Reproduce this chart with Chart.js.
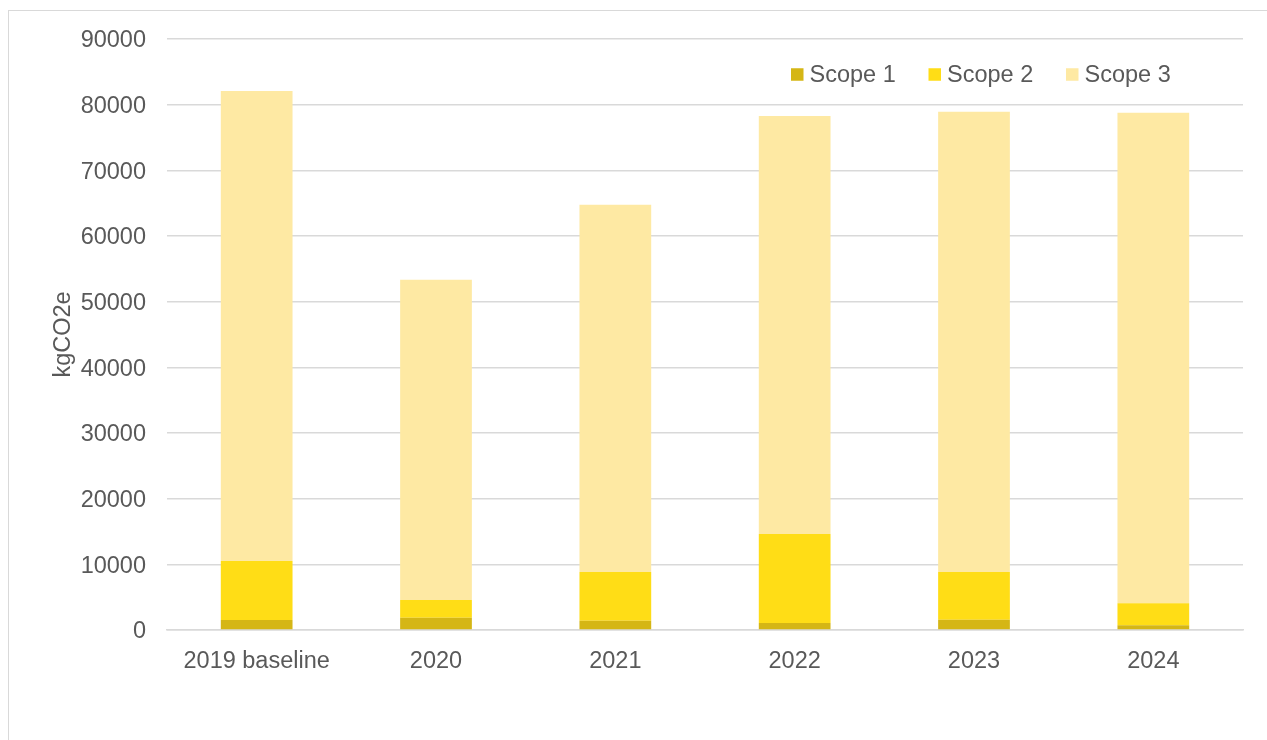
<!DOCTYPE html>
<html>
<head>
<meta charset="utf-8">
<script src="https://cdn.jsdelivr.net/npm/chart.js@4"></script>
<style>
  html, body { margin: 0; padding: 0; background: #ffffff; overflow: hidden; }
  #frame { position: absolute; left: 8px; top: 10px; width: 1300px; height: 800px; border: 1.3px solid #d9d9d9; box-sizing: border-box; }
  #wrap { position: absolute; left: 0; top: 0; width: 1267px; height: 740px; }
</style>
</head>
<body>
<div id="frame"></div>
<div id="wrap"><canvas id="c" width="1267" height="740"></canvas></div>
<script>
const categories = ["2019 baseline", "2020", "2021", "2022", "2023", "2024"];
const seriesNames = ["Scope 1", "Scope 2", "Scope 3"];
const scope1 = [1520, 1880, 1420, 1070, 1550, 710];
const scope2 = [8990, 2690, 7410, 13550, 7280, 3350];
const scope3 = [71570, 48780, 55940, 63650, 70100, 74720];
const seriesColors = ["#D5B615", "#FFDD16", "#FEE9A3"];
const yTicks = [0, 10000, 20000, 30000, 40000, 50000, 60000, 70000, 80000, 90000];
const yTitle = "kgCO2e";

const FONT = "'Liberation Sans', Arial, sans-serif";
const FS = 23.5;
const TXT = "#595959";

const legendPlugin = {
  id: 'insideLegend',
  afterDraw(chart, args, opts) {
    const ctx = chart.ctx;
    ctx.save();
    ctx.font = FS + "px " + FONT;
    ctx.textBaseline = 'middle';
    ctx.textAlign = 'left';
    let x = opts.x;
    chart.data.datasets.forEach(ds => {
      ctx.fillStyle = ds.backgroundColor;
      ctx.fillRect(x, opts.y - opts.box / 2, opts.box, opts.box);
      ctx.fillStyle = TXT;
      ctx.fillText(ds.label, x + opts.box + opts.gap, opts.y + 1);
      x += opts.step;
    });
    ctx.restore();
  }
};

const datasets = [scope1, scope2, scope3].map((vals, i) => ({
  label: seriesNames[i],
  data: vals,
  backgroundColor: seriesColors[i],
  borderWidth: 0,
  barPercentage: 0.4,
  categoryPercentage: 1.0
}));

new Chart(document.getElementById('c'), {
  type: 'bar',
  data: { labels: categories, datasets: datasets },
  plugins: [legendPlugin],
  options: {
    responsive: false,
    animation: false,
    devicePixelRatio: 1,
    layout: { padding: { left: 0, right: 24, top: 39, bottom: 0 } },
    plugins: {
      legend: { display: false },
      tooltip: { enabled: false },
      insideLegend: { x: 791, y: 74.5, box: 12.5, gap: 6, step: 137.5 }
    },
    scales: {
      x: {
        stacked: true,
        grid: { display: false, drawTicks: false },
        border: { display: true, color: '#d9d9d9', width: 1.5 },
        ticks: { color: TXT, font: { family: FONT, size: FS }, padding: 17, maxRotation: 0 },
        afterFit(scale) { scale.height = 110; }
      },
      y: {
        stacked: true,
        min: 0,
        max: 90000,
        afterBuildTicks(scale) { scale.ticks = yTicks.map(v => ({ value: v })); },
        grid: { color: '#d9d9d9', lineWidth: 1.5, drawTicks: false },
        border: { display: false },
        ticks: {
          color: TXT, font: { family: FONT, size: FS }, padding: 21, labelOffset: 2,
          callback: (v) => String(v)
        },
        title: {
          display: true, text: yTitle, color: TXT,
          font: { family: FONT, size: FS }, padding: { top: 49, bottom: 0 }
        },
        afterFit(scale) { scale.width = 167; }
      }
    }
  }
});
</script>
</body>
</html>
